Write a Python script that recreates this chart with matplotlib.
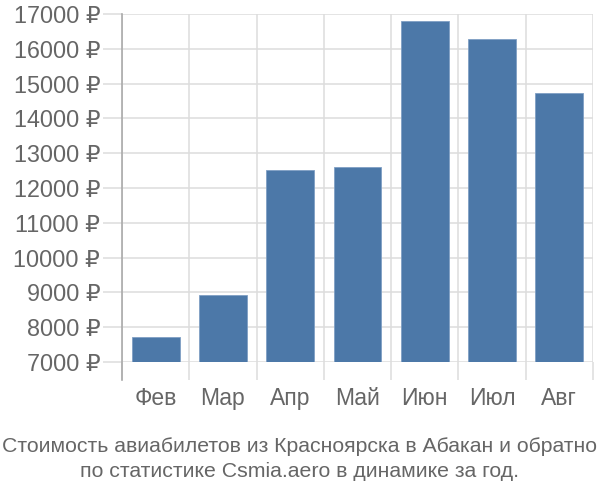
#!/usr/bin/env python3
"""
Bar chart: air ticket prices Krasnoyarsk - Abakan by month
"""

import matplotlib
matplotlib.use('Agg')
import matplotlib.pyplot as plt
import numpy as np

months = ['Фев', 'Мар', 'Апр', 'Май', 'Июн', 'Июл', 'Авг']
prices = [7730, 8930, 12520, 12600, 16800, 16290, 14730]
yticks = list(range(7000, 17001, 1000))

caption = ('Стоимость авиабилетов из Красноярска в Абакан и обратно\n'
           'по статистике Csmia.aero в динамике за год.')

plt.rcParams['font.family'] = ['Liberation Sans', 'DejaVu Sans']

bar_color = '#4c78a8'
grid_color = '#dddddd'
text_color = '#666666'

fig = plt.figure(figsize=(6, 5), dpi=100)
ax = fig.add_axes([122 / 600, 1 - 362 / 500, 471 / 600, 348 / 500])

x = np.arange(len(months))
ax.bar(x, np.array(prices) - 7000, bottom=7000, width=0.71,
       color=bar_color, edgecolor='#7f9fc4', linewidth=0.6, zorder=3)

ax.set_xlim(-0.5, len(months) - 0.5)
ax.set_ylim(7000, 17000)

# y ticks: gridlines extending left as ticks
ax.set_yticks(yticks)
ax.set_yticklabels([f'{v} ₽' for v in yticks])
ax.tick_params(axis='y', length=13.7, width=1.1, color=grid_color,
               pad=2, labelsize=16.8, labelcolor=text_color)
ax.yaxis.grid(True, color=grid_color, linewidth=1.1, zorder=0)

# x: labels at centres, boundary ticks/grid as minor
ax.set_xticks(x)
ax.set_xticklabels(months)
ax.set_xticks(np.arange(-0.5, len(months)), minor=True)
ax.tick_params(axis='x', which='major', length=0, pad=18,
               labelsize=16.5, labelcolor=text_color)
ax.tick_params(axis='x', which='minor', length=13, width=1.1,
               color=grid_color)
ax.xaxis.grid(True, which='minor', color=grid_color, linewidth=1.1, zorder=0)

for s in ['top', 'right', 'bottom', 'left']:
    ax.spines[s].set_visible(False)

# left axis line, running down past the baseline
ax.plot([0, 0], [1, -18 / 348], transform=ax.transAxes, color='#aaaaaa',
        linewidth=1.2, clip_on=False, zorder=4)

fig.text(0.5, 1 - 459 / 500, caption, ha='center', va='center',
         fontsize=15.3, color=text_color, linespacing=1.42)

fig.savefig('out.png', dpi=100)
